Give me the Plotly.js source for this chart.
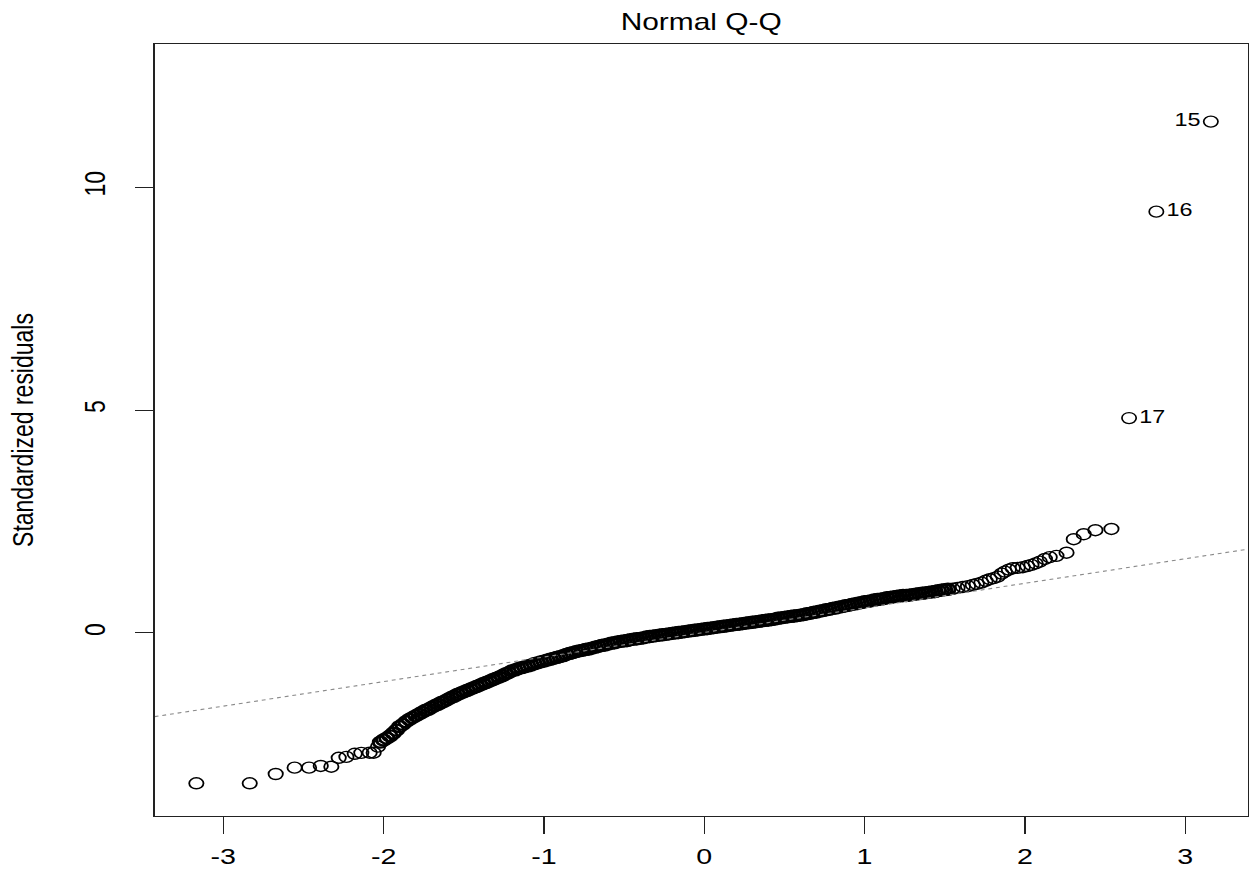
<!DOCTYPE html>
<html><head><meta charset="utf-8">
<script src="https://cdn.plot.ly/plotly-3.0.1.min.js"></script>
<style>
html,body{margin:0;padding:0;background:#fff;overflow:hidden;}
#wrap{width:1249px;height:872px;overflow:hidden;position:relative;}
#chart{width:961px;height:872px;transform:scaleX(1.2997);transform-origin:0 0;}
</style></head><body>
<div id="wrap"><div id="chart"></div></div>
<script>
// Theoretical quantiles (x) and standardized residuals (y)
const leftTailX = [-3.168,-2.835,-2.673,-2.555,-2.465,-2.392,-2.326,-2.28,-2.232,-2.18,-2.139,-2.087,-2.062,-2.035];
const leftTailY = [-3.372,-3.372,-3.164,-3.022,-3.022,-2.984,-3.0,-2.80,-2.78,-2.71,-2.69,-2.686,-2.686,-2.55];

const bandX = [
-2.02,-2.00,-1.98,-1.96,-1.94,-1.92,-1.90,-1.88,-1.86,-1.84,
-1.82,-1.80,-1.78,-1.76,-1.74,-1.72,-1.70,-1.68,-1.66,-1.64,
-1.62,-1.60,-1.58,-1.56,-1.54,-1.52,-1.50,-1.48,-1.46,-1.44,
-1.42,-1.40,-1.38,-1.36,-1.34,-1.32,-1.30,-1.28,-1.26,-1.24,
-1.22,-1.20,-1.18,-1.16,-1.14,-1.12,-1.10,-1.08,-1.06,-1.04,
-1.02,-1.00,-0.98,-0.96,-0.94,-0.92,-0.90,-0.88,-0.86,-0.84,
-0.82,-0.80,-0.78,-0.76,-0.74,-0.72,-0.70,-0.68,-0.66,-0.64,
-0.62,-0.60,-0.58,-0.56,-0.54,-0.52,-0.50,-0.48,-0.46,-0.44,
-0.42,-0.40,-0.38,-0.36,-0.34,-0.32,-0.30,-0.28,-0.26,-0.24,
-0.22,-0.20,-0.18,-0.16,-0.14,-0.12,-0.10,-0.08,-0.06,-0.04,
-0.02,0.00,0.02,0.04,0.06,0.08,0.10,0.12,0.14,0.16,
0.18,0.20,0.22,0.24,0.26,0.28,0.30,0.32,0.34,0.36,
0.38,0.40,0.42,0.44,0.46,0.48,0.50,0.52,0.54,0.56,
0.58,0.60,0.62,0.64,0.66,0.68,0.70,0.72,0.74,0.76,
0.78,0.80,0.82,0.84,0.86,0.88,0.90,0.92,0.94,0.96,
0.98,1.00,1.02,1.04,1.06,1.08,1.10,1.12,1.14,1.16,
1.18,1.20,1.22,1.24,1.26,1.28,1.30,1.32,1.34,1.36,
1.38,1.40,1.42,1.44,1.46,1.48,1.50,1.52];
const bandY = [
-2.45,-2.40,-2.36,-2.31,-2.25,-2.18,-2.10,-2.05,-1.99,-1.94,
-1.90,-1.86,-1.82,-1.78,-1.74,-1.71,-1.67,-1.63,-1.60,-1.56,
-1.53,-1.49,-1.45,-1.42,-1.38,-1.35,-1.32,-1.29,-1.26,-1.23,
-1.20,-1.17,-1.14,-1.11,-1.08,-1.05,-1.02,-0.99,-0.96,-0.92,
-0.89,-0.85,-0.83,-0.80,-0.78,-0.76,-0.74,-0.72,-0.69,-0.67,
-0.65,-0.63,-0.61,-0.59,-0.57,-0.55,-0.53,-0.51,-0.48,-0.46,
-0.44,-0.42,-0.40,-0.39,-0.37,-0.36,-0.34,-0.32,-0.30,-0.28,
-0.27,-0.25,-0.23,-0.22,-0.20,-0.19,-0.18,-0.17,-0.15,-0.14,
-0.13,-0.12,-0.11,-0.09,-0.08,-0.07,-0.06,-0.05,-0.04,-0.03,
-0.02,-0.01,0.00,0.01,0.02,0.03,0.04,0.05,0.06,0.07,
0.08,0.09,0.10,0.11,0.12,0.13,0.14,0.15,0.16,0.17,
0.18,0.19,0.20,0.21,0.22,0.23,0.24,0.25,0.26,0.27,
0.28,0.29,0.30,0.31,0.33,0.34,0.35,0.36,0.37,0.38,
0.39,0.40,0.41,0.43,0.44,0.46,0.47,0.49,0.50,0.52,
0.53,0.55,0.56,0.58,0.59,0.61,0.62,0.64,0.65,0.67,
0.68,0.70,0.71,0.72,0.74,0.75,0.76,0.77,0.79,0.80,
0.81,0.82,0.83,0.84,0.84,0.85,0.86,0.87,0.88,0.89,
0.90,0.91,0.92,0.93,0.95,0.96,0.97,0.98];

const rightTailX = [1.55,1.58,1.613,1.645,1.675,1.70,1.729,1.755,1.781,1.806,1.831,1.855,1.875,1.90,1.925,1.955,1.987,2.015,2.041,2.067,2.093,2.125,2.155,2.197,2.26,2.305,2.367,2.44,2.54];
const rightTailY = [0.99,1.01,1.032,1.05,1.077,1.10,1.129,1.17,1.205,1.23,1.263,1.33,1.375,1.42,1.452,1.46,1.474,1.50,1.526,1.56,1.60,1.66,1.70,1.728,1.80,2.102,2.214,2.304,2.333];

// Labelled outliers (observation numbers)
const labelX = [3.16, 2.82, 2.65];
const labelY = [11.47, 9.45, 4.82];
const labelText = ['15', '16', '17'];
const labelPos = ['middle left', 'middle right', 'middle right'];

// Reference line (qqline)
const qqIntercept = 0.011;
const qqSlope = 0.551;

const xRange = [-3.428, 3.39];
const yRange = [-4.106, 13.21];
const xTicks = [-3, -2, -1, 0, 1, 2, 3];
const yTicks = [0, 5, 10];

const FONT = 'Liberation Sans, Arial, sans-serif';
const openCircle = (w) => ({symbol: 'circle-open', size: 11, color: '#000', line: {width: w, color: '#000'}});

const traces = [
  {
    x: leftTailX.concat(rightTailX), y: leftTailY.concat(rightTailY),
    mode: 'markers', type: 'scatter', marker: openCircle(1.4), showlegend: false
  },
  {
    x: bandX, y: bandY,
    mode: 'markers', type: 'scatter', marker: openCircle(2.3), showlegend: false
  },
  {
    x: labelX, y: labelY, mode: 'markers+text', type: 'scatter',
    marker: openCircle(1.3),
    text: labelText, textposition: labelPos,
    textfont: {family: FONT, size: 18, color: '#000'},
    showlegend: false, cliponaxis: false
  },
  {
    x: xRange, y: xRange.map(v => qqIntercept + qqSlope * v),
    mode: 'lines', type: 'scatter',
    line: {color: '#8a8a8a', width: 1.1, dash: '3px,3px'},
    hoverinfo: 'skip', showlegend: false
  }
];

const layout = {
  width: 961, height: 872,
  margin: {l: 119, r: 1, t: 44, b: 56, pad: 0},
  paper_bgcolor: '#fff', plot_bgcolor: '#fff',
  showlegend: false,
  title: {text: 'Normal Q-Q', x: 0.5, xref: 'paper', xanchor: 'center',
          y: 1 - 22/872, yref: 'container', yanchor: 'middle',
          font: {family: FONT, size: 23, color: '#000'}},
  xaxis: {
    range: xRange, tickvals: xTicks, ticktext: xTicks.map(String),
    showgrid: false, zeroline: false,
    showline: true, mirror: true, linecolor: '#222', linewidth: 1,
    ticks: 'outside', ticklen: 17, tickwidth: 1, tickcolor: '#222',
    ticklabelstandoff: 4,
    tickfont: {family: FONT, size: 22, color: '#000'}
  },
  yaxis: {
    range: yRange, tickvals: yTicks, ticktext: yTicks.map(String),
    showgrid: false, zeroline: false,
    showline: true, mirror: true, linecolor: '#222', linewidth: 1,
    ticks: 'outside', ticklen: 14, tickwidth: 1, tickcolor: '#222',
    tickangle: -90, ticklabelstandoff: 14,
    tickfont: {family: FONT, size: 23, color: '#000'},
    title: {text: 'Standardized residuals', standoff: 27,
            font: {family: FONT, size: 23, color: '#000'}}
  }
};

Plotly.newPlot('chart', traces, layout, {displayModeBar: false, staticPlot: true});
</script>
</body></html>
